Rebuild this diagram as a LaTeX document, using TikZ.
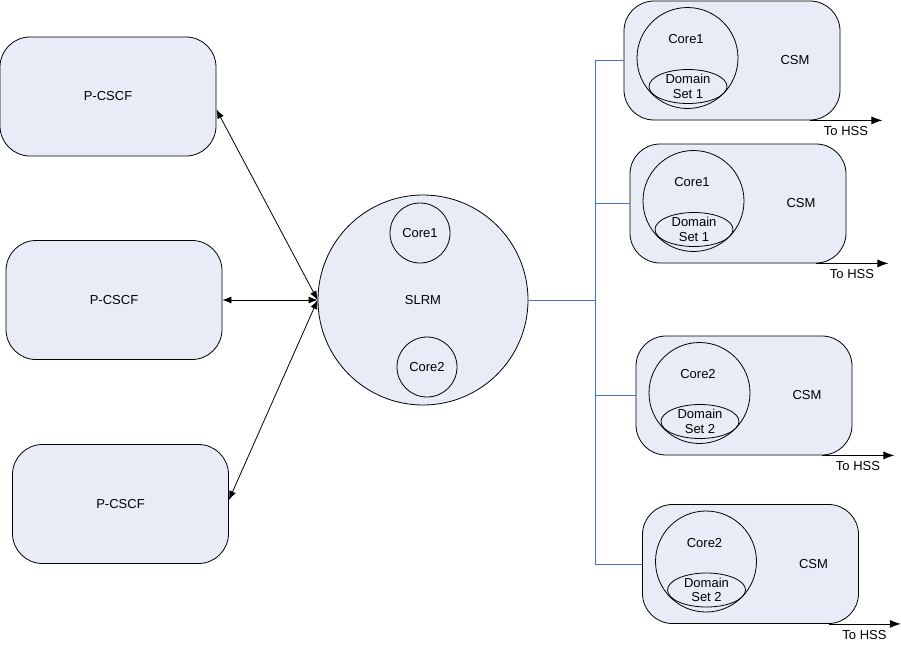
\documentclass[tikz,border=0pt]{standalone}
\usepackage{fontspec}
\setmainfont{Liberation Sans}
\usetikzlibrary{arrows.meta}

\definecolor{boxfill}{RGB}{231,236,246}
\definecolor{linkblue}{RGB}{68,114,196}

\tikzset{
  cscfbox/.style={draw, fill=boxfill, rounded corners=30pt, minimum width=216pt, minimum height=119pt},
  csmbox/.style={draw, fill=boxfill, rounded corners=30pt, minimum width=216pt, minimum height=119pt},
  corecirc/.style={draw, circle, inner sep=0pt},
  domainell/.style={draw, ellipse, inner sep=0pt, minimum width=78pt, minimum height=32pt, align=center, font=\fontsize{13}{14.5}\selectfont},
  tip/.style={-{Latex[length=11pt,width=8pt]}},
  dtip/.style={{Latex[length=9pt,width=7pt]}-{Latex[length=9pt,width=7pt]}},
}
\usetikzlibrary{shapes.geometric}

\begin{document}
\begin{tikzpicture}[x=1pt, y=-1pt, line width=0.8pt, font=\fontsize{13}{15}\selectfont]
        \useasboundingbox (0,0) rectangle (901,645);

        % P-CSCF side
        \node[cscfbox] (pc1) at (108,96.5) {P-CSCF};
        \node[cscfbox] (pc2) at (114,300) {P-CSCF};
        \node[cscfbox] (pc3) at (120.5,504) {P-CSCF};

        % SLRM with its cores
        \node[corecirc, fill=boxfill, minimum size=210pt] (slrm) at (423,300) {SLRM};
        \node[corecirc, minimum size=60pt] (slrmc1) at (420,233) {Core1};
        \node[corecirc, minimum size=60pt] (slrmc2) at (427,367) {Core2};

        \draw[dtip] ([yshift=-13pt]pc1.east) -- (slrm.west);
        \draw[dtip] (pc2.east) -- (slrm.west);
        \draw[dtip] ([yshift=4pt]pc3.east) -- (slrm.west);

        % CSM boxes
        \foreach \n/\cx/\cy/\core/\dset in {1/732/60.5/Core1/1, 2/738/203.5/Core1/1, 3/744/395.5/Core2/2, 4/750.5/564/Core2/2}{
          \node[csmbox] (csm\n) at (\cx,\cy) {};
          \node (csmlbl\n) at ([xshift=63pt]csm\n.center) {CSM};
          \node[corecirc, minimum size=101pt] (core\n) at ([xshift=-44.5pt,yshift=2.5pt]csm\n.center) {};
          \node (corelbl\n) at ([xshift=-46pt,yshift=21pt]csm\n.center) {\core};
          \node[domainell] (dom\n) at ([xshift=-44pt,yshift=-26pt]csm\n.center) {Domain\\Set \dset};
          \draw[tip] ([xshift=-30pt]csm\n.south east) -- ++(72,0) coordinate (hss\n);
          \node[anchor=north east, inner sep=0pt] (hsslbl\n) at ([xshift=-14pt,yshift=-6pt]hss\n) {To HSS};
        }

        % blue links SLRM -> CSM
        \coordinate (bus) at (595,300);
        \draw[linkblue] (slrm.east) -- (bus);
        \draw[linkblue] (bus |- csm1.west) -- (bus |- csm4.west);
        \foreach \n in {1,...,4}
          \draw[linkblue] (bus |- csm\n.west) -- (csm\n.west);
\end{tikzpicture}
\end{document}
